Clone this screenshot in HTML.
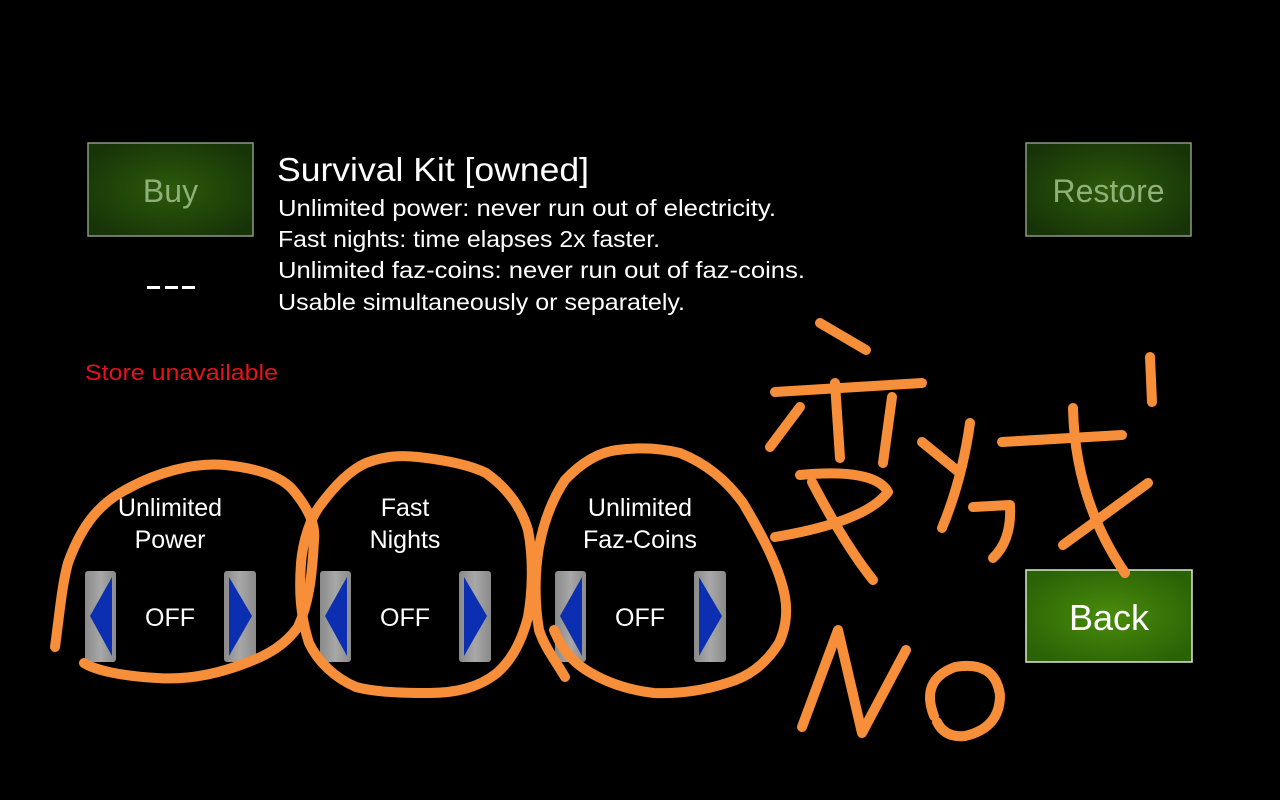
<!DOCTYPE html>
<html><head><meta charset="utf-8"><style>
html,body{margin:0;padding:0;background:#000;width:1280px;height:800px;overflow:hidden}
svg{display:block}
text{font-family:"Liberation Sans","Noto Sans CJK SC",sans-serif}
</style></head><body>
<svg width="1280" height="800" viewBox="0 0 1280 800" xmlns="http://www.w3.org/2000/svg">
<defs>
<radialGradient id="dg" cx="50%" cy="50%" r="60%"><stop offset="0" stop-color="#2c5a0a"/><stop offset="1" stop-color="#173408"/></radialGradient>
<radialGradient id="bg" cx="50%" cy="50%" r="60%"><stop offset="0" stop-color="#4a8c0c"/><stop offset="1" stop-color="#2a6206"/></radialGradient>
<linearGradient id="gb" x1="0" x2="1"><stop offset="0" stop-color="#8a8a8a"/><stop offset="0.5" stop-color="#a8a8a8"/><stop offset="1" stop-color="#8a8a8a"/></linearGradient>
</defs>
<rect width="1280" height="800" fill="#000"/>
<rect x="88" y="143" width="165" height="93" fill="url(#dg)" stroke="#8a9a80" stroke-width="1.5"/>
<text x="170.5" y="202" font-size="32" fill="#8fb07a" text-anchor="middle">Buy</text>
<rect x="147" y="286" width="13" height="3" fill="#fff"/><rect x="165" y="286" width="13" height="3" fill="#fff"/><rect x="182" y="286" width="13" height="3" fill="#fff"/>
<rect x="1026" y="143" width="165" height="93" fill="url(#dg)" stroke="#8a9a80" stroke-width="1.5"/>
<text x="1108.5" y="202" font-size="32" fill="#8fb07a" text-anchor="middle">Restore</text>
<rect x="1026" y="570" width="166" height="92" fill="url(#bg)" stroke="#e0e8d8" stroke-width="1.5"/>
<text x="1109" y="630" font-size="36" fill="#fff" text-anchor="middle">Back</text>
<text x="277" y="181" font-size="33" fill="#fff" textLength="312" lengthAdjust="spacingAndGlyphs">Survival Kit [owned]</text>
<text x="278" y="216" font-size="23" fill="#fff" textLength="498" lengthAdjust="spacingAndGlyphs">Unlimited power: never run out of electricity.</text>
<text x="278" y="247" font-size="23" fill="#fff" textLength="382" lengthAdjust="spacingAndGlyphs">Fast nights: time elapses 2x faster.</text>
<text x="278" y="278" font-size="23" fill="#fff" textLength="527" lengthAdjust="spacingAndGlyphs">Unlimited faz-coins: never run out of faz-coins.</text>
<text x="278" y="310" font-size="23" fill="#fff" textLength="407" lengthAdjust="spacingAndGlyphs">Usable simultaneously or separately.</text>
<text x="85" y="380" font-size="22" fill="#e4141e" textLength="193" lengthAdjust="spacingAndGlyphs">Store unavailable</text>
<g fill="#fff" font-size="25" text-anchor="middle">
<text x="170" y="516">Unlimited</text><text x="170" y="548">Power</text><text x="170" y="626">OFF</text>
<text x="405" y="516">Fast</text><text x="405" y="548">Nights</text><text x="405" y="626">OFF</text>
<text x="640" y="516">Unlimited</text><text x="640" y="548">Faz-Coins</text><text x="640" y="626">OFF</text>
</g>
<g>
<rect x="85" y="571" width="31" height="91" rx="3" fill="url(#gb)"/><polygon points="112,577 112,656 90,616" fill="#0b2fb0"/>
<rect x="224" y="571" width="32" height="91" rx="3" fill="url(#gb)"/><polygon points="229,577 229,656 252,616" fill="#0b2fb0"/>
<rect x="320" y="571" width="31" height="91" rx="3" fill="url(#gb)"/><polygon points="347,577 347,656 325,616" fill="#0b2fb0"/>
<rect x="459" y="571" width="32" height="91" rx="3" fill="url(#gb)"/><polygon points="464,577 464,656 487,616" fill="#0b2fb0"/>
<rect x="555" y="571" width="31" height="91" rx="3" fill="url(#gb)"/><polygon points="582,577 582,656 560,616" fill="#0b2fb0"/>
<rect x="694" y="571" width="32" height="91" rx="3" fill="url(#gb)"/><polygon points="699,577 699,656 722,616" fill="#0b2fb0"/>
</g>
<g fill="none" stroke="#f68e3a" stroke-width="10" stroke-linecap="round" stroke-linejoin="round">
<path d="M55,647 C60,610 62,585 68,563 C80,530 95,508 120,493 C155,472 195,462 225,465 C255,468 280,475 293,490 C308,508 316,525 314,540 C312,580 308,605 298,627 C285,645 268,655 246,663 C215,675 185,680 157,678 C120,676 95,670 84,663"/>
<path d="M319,507 C335,485 350,470 366,463 C385,456 400,455 418,457 C445,460 470,465 486,473 C510,490 522,510 528,530 C534,560 532,595 528,617 C522,640 512,660 497,673 C478,688 455,693 429,693 C400,693 375,692 356,687 C335,678 318,662 309,643 C300,615 299,590 301,563 C303,540 310,520 319,507"/>
<path d="M565,677 C555,660 545,648 539,630 C534,600 535,570 539,547 C545,515 555,495 565,480 C582,462 600,452 617,450 C640,447 660,448 680,453 C710,465 730,485 743,503 C765,540 780,570 785,597 C788,615 785,630 779,643 C765,665 748,677 727,683 C705,690 680,694 654,693 C628,690 605,682 586,670 C570,660 560,645 554,630"/>
<path d="M820,323 L866,350"/>
<path d="M775,392 L922,383"/>
<path d="M800,407 L770,447"/>
<path d="M835,383 L840,458"/>
<path d="M892,397 L883,463"/>
<path d="M800,475 Q875,468 888,492 Q865,522 775,537"/>
<path d="M812,482 Q845,545 873,580"/>
<path d="M922,442 L960,473"/>
<path d="M970,423 Q962,480 942,528"/>
<path d="M973,507 L1010,505 Q1012,540 993,558"/>
<path d="M1002,442 L1122,435"/>
<path d="M1073,408 Q1075,500 1125,573"/>
<path d="M1148,483 L1063,545"/>
<path d="M1150,357 L1152,402"/>
<path d="M802,727 L838,630 L862,733 L906,650"/>
<path d="M934,716 Q920,680 955,667 Q995,660 1000,695 Q1000,728 965,736 Q945,738 937,722"/>
</g>
</svg>
</body></html>
